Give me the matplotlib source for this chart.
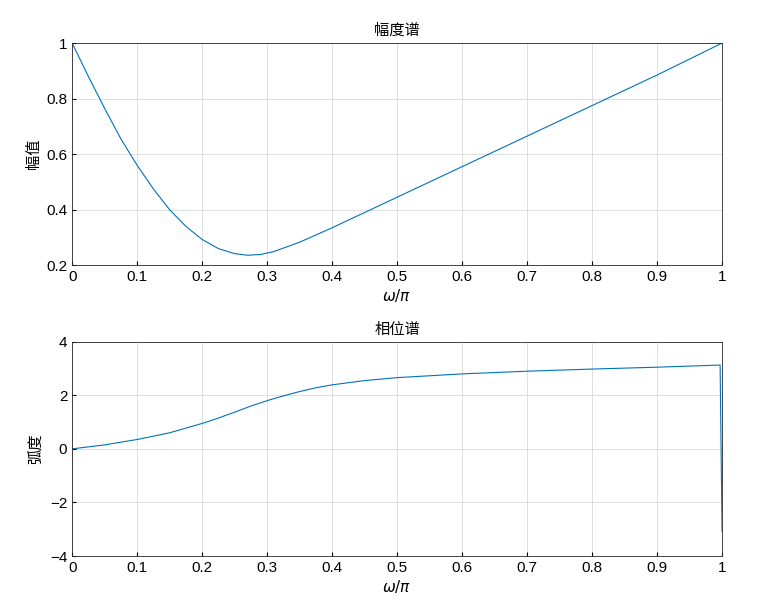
import matplotlib
matplotlib.use("Agg")
import matplotlib.pyplot as plt

plt.rcParams['font.family'] = ['Liberation Sans', 'Noto Sans CJK SC', 'DejaVu Sans']

mag_w = [0, 0.025, 0.05, 0.075, 0.1, 0.125, 0.15, 0.175, 0.2, 0.225, 0.25, 0.27, 0.29, 0.31, 0.35, 0.4, 0.5, 0.6, 0.7, 0.8, 0.9, 1.0]
mag = [1.0, 0.88, 0.765, 0.655, 0.56, 0.475, 0.4, 0.34, 0.293, 0.26, 0.242, 0.236, 0.239, 0.249, 0.283, 0.335, 0.445, 0.555, 0.665, 0.775, 0.885, 1.0]
ph_w = [0, 0.05, 0.1, 0.15, 0.2, 0.225, 0.25, 0.275, 0.3, 0.325, 0.35, 0.375, 0.4, 0.45, 0.5, 0.6, 0.7, 0.8, 0.9, 0.997, 1.0]
ph = [0, 0.15, 0.35, 0.6, 0.95, 1.15, 1.37, 1.6, 1.8, 1.98, 2.14, 2.28, 2.39, 2.55, 2.66, 2.8, 2.9, 2.98, 3.05, 3.13, -3.1]
xticks = [0, 0.1, 0.2, 0.3, 0.4, 0.5, 0.6, 0.7, 0.8, 0.9, 1]

fig = plt.figure(figsize=(7.84, 6.07), dpi=100)
ax1 = fig.add_axes([0.092, 0.563, 0.829, 0.366])
ax2 = fig.add_axes([0.092, 0.084, 0.829, 0.353])
c = '#0072BD'
ax1.plot(mag_w, mag, color=c, lw=0.8)
ax1.set_ylim(0.2, 1); ax1.set_yticks([0.2, 0.4, 0.6, 0.8, 1])
ax1.set_yticklabels(['0.2', '0.4', '0.6', '0.8', '1'])
ax1.set_title('幅度谱', fontsize=11)
ax1.set_ylabel('幅值', fontsize=11)
ax2.plot(ph_w, ph, color=c, lw=0.8)
ax2.set_ylim(-4, 4); ax2.set_yticks([-4, -2, 0, 2, 4])
ax2.set_title('相位谱', fontsize=11)
ax2.set_ylabel('弧度', fontsize=11)
for ax in (ax1, ax2):
    ax.set_xlim(0, 1)
    ax.set_xticks(xticks)
    ax.set_xticklabels(['0', '0.1', '0.2', '0.3', '0.4', '0.5', '0.6', '0.7', '0.8', '0.9', '1'])
    ax.set_xlabel(r'$\omega/\pi$', fontsize=11, labelpad=2)
    ax.grid(True, color='#d9d9d9', lw=0.6)
    ax.tick_params(labelsize=11, direction='in', length=3)
    for s in ax.spines.values():
        s.set_color('#262626'); s.set_linewidth(0.6)
fig.savefig('out.png', dpi=100)
